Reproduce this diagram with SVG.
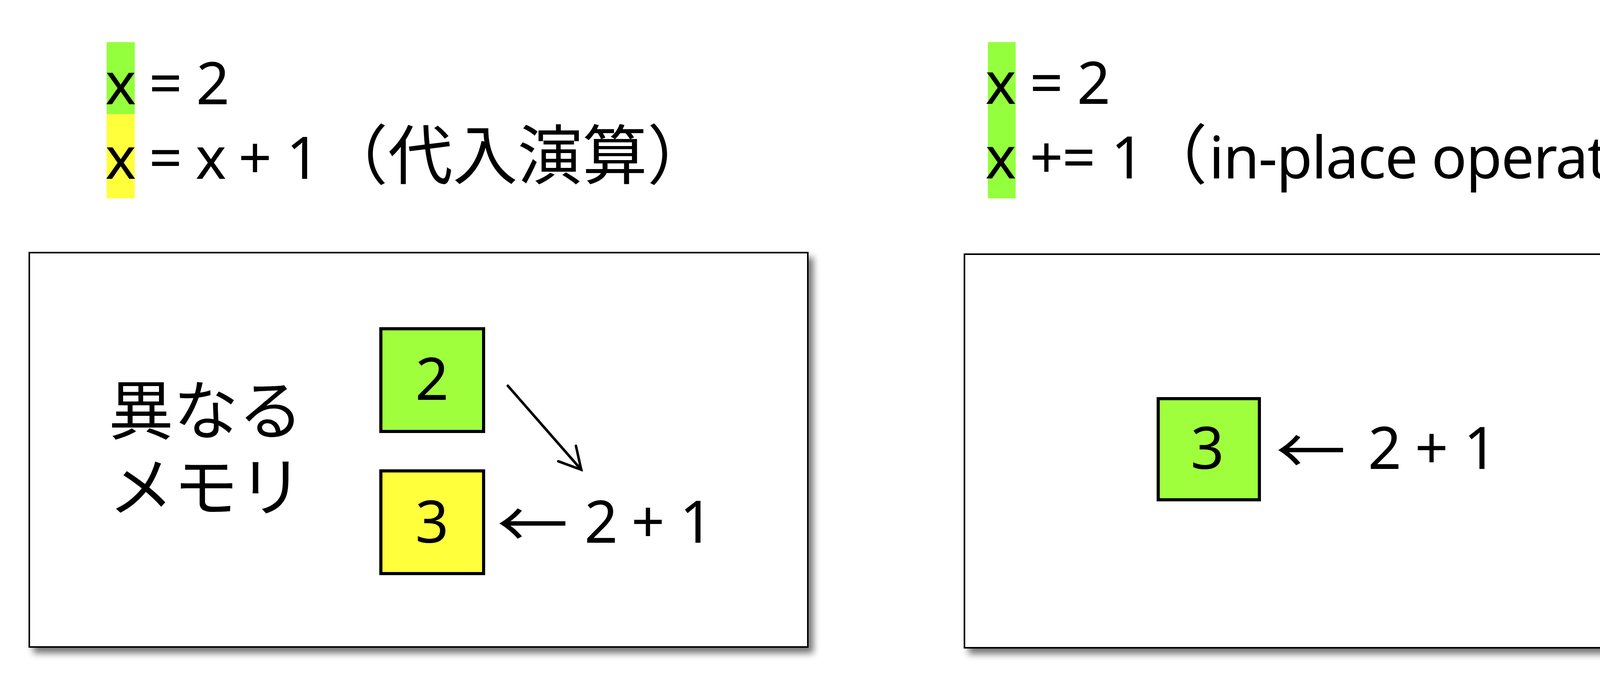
<svg xmlns="http://www.w3.org/2000/svg" width="4579" height="1739" viewBox="0 0 4579 1739">
<defs>
<style>
.lat{font-family:"Noto Sans","Open Sans",sans-serif;font-size:150px;fill:#000;text-anchor:middle}
.latl{font-family:"Noto Sans","Open Sans",sans-serif;font-size:150px;fill:#000}
.cjk{font-family:"Noto Sans CJK JP","Noto Sans",sans-serif;font-size:166px;fill:#000}
.panel{fill:#fff;stroke:#000;stroke-width:4}
.cell{stroke:#000;stroke-width:8}
.green{fill:#a0ff3c}
.yellow{fill:#ffff3c}
.hlg{fill:#94ff3c}
.hly{fill:#ffff3c}
.conn{stroke:#000;stroke-width:6.5;fill:none;stroke-linecap:round}
</style>
<filter id="shadow" x="-5%" y="-5%" width="115%" height="120%">
<feGaussianBlur in="SourceAlpha" stdDeviation="9"/>
<feOffset dx="12" dy="14" result="b"/>
<feComponentTransfer><feFuncA type="linear" slope="0.55"/></feComponentTransfer>
<feMerge><feMergeNode/><feMergeNode in="SourceGraphic"/></feMerge>
</filter>
<marker id="open" markerUnits="userSpaceOnUse" viewBox="-70 -40 80 80" refX="0" refY="0" markerWidth="80" markerHeight="80" orient="auto">
<path d="M-55,-30 L0,0 L-55,30" fill="none" stroke="#000" stroke-width="6.5" stroke-linecap="round" stroke-linejoin="miter"/>
</marker>
</defs>
<rect width="4579" height="1739" fill="#fff"/>

<g id="header-left">
<rect class="hlg" x="273" y="108" width="72" height="184"/>
<rect class="hly" x="273" y="292" width="72" height="216"/>
<text class="lat" x="309" y="267">x</text>
<text class="lat" x="424" y="267">=</text>
<text class="lat" x="545" y="267">2</text>
<text class="lat" x="309" y="458">x</text>
<text class="lat" x="424" y="458">=</text>
<text class="lat" x="540" y="458">x</text>
<text class="lat" x="653" y="458">+</text>
<text class="lat" x="776" y="458">1</text>
<text class="cjk" x="827" y="458">（代入演算）</text>
</g>

<g id="header-right">
<rect class="hlg" x="2529" y="108" width="71" height="400"/>
<text class="lat" x="2562" y="266">x</text>
<text class="lat" x="2679" y="266">=</text>
<text class="lat" x="2800" y="266">2</text>
<text class="lat" x="2562" y="457">x</text>
<text class="lat" x="2679" y="457">+</text>
<text class="lat" x="2762" y="457">=</text>
<text class="lat" x="2887" y="457">1</text>
<text class="cjk" x="2925" y="457">（</text>
<text class="latl" x="3095" y="457" textLength="1238" lengthAdjust="spacing">in-place operation</text>
<text class="cjk" x="4330" y="457">）</text>
</g>

<g id="panel-left">
<rect class="panel" x="75" y="647" width="1993" height="1010" filter="url(#shadow)"/>
<text class="cjk"><tspan x="278" y="1112">異なる</tspan><tspan x="278" y="1308">メモリ</tspan></text>
</g>

<g id="cell-left-2">
<rect class="cell green" x="975" y="842" width="263" height="263"/>
<text class="lat" x="1106" y="1024">2</text>
</g>

<g id="cell-left-3">
<rect class="cell yellow" x="975" y="1206" width="263" height="263"/>
<text class="lat" x="1106" y="1390">3</text>
</g>

<g id="expr-left">
<text class="cjk" transform="translate(1272,1404) scale(1.1,1)">←</text>
<text class="lat" x="1539" y="1390">2</text>
<text class="lat" x="1659" y="1390">+</text>
<text class="lat" x="1783" y="1390">1</text>
</g>

<g id="panel-right">
<rect class="panel" x="2469" y="651" width="1991" height="1008" filter="url(#shadow)"/>
</g>

<g id="cell-right-3">
<rect class="cell green" x="2965" y="1021" width="259" height="259"/>
<text class="lat" x="3091" y="1201">3</text>
</g>

<g id="expr-right">
<text class="cjk" transform="translate(3266,1216) scale(1.08,1)">←</text>
<text class="lat" x="3545" y="1201">2</text>
<text class="lat" x="3665" y="1201">+</text>
<text class="lat" x="3790" y="1201">1</text>
</g>

<g id="connectors">
<line class="conn" x1="1300" y1="988" x2="1488" y2="1203" marker-end="url(#open)"/>
</g>
</svg>
